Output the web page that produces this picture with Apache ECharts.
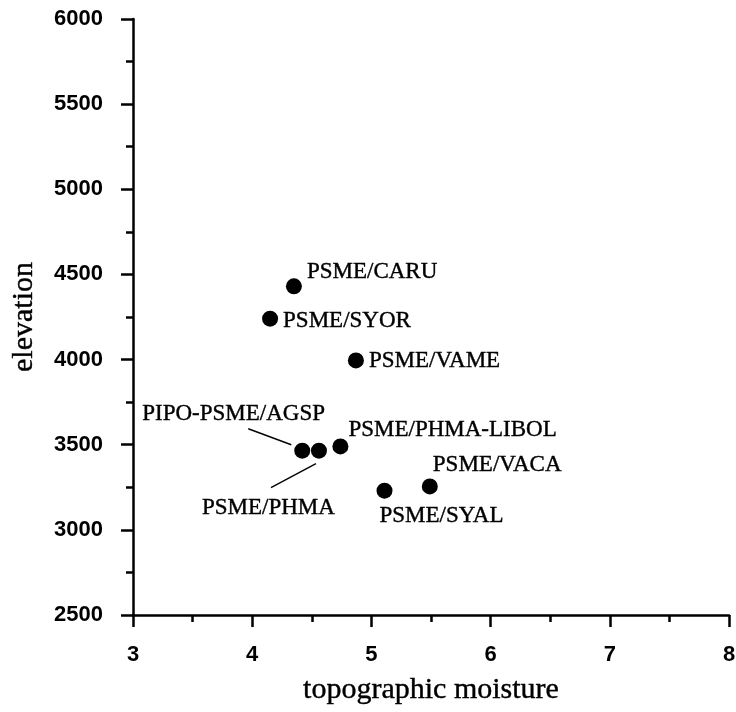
<!DOCTYPE html>
<html>
<head>
<meta charset="utf-8">
<script src="https://cdn.jsdelivr.net/npm/echarts@6/dist/echarts.min.js"></script>
<style>html,body{margin:0;padding:0;background:#fff}#c{width:736px;height:712px}</style>
</head>
<body>
<div id="c"></div>
<script>
const names = ['PSME/CARU','PSME/SYOR','PSME/VAME','PIPO-PSME/AGSP','PSME/PHMA','PSME/PHMA-LIBOL','PSME/SYAL','PSME/VACA'];
const moisture = [4.35, 4.15, 4.87, 4.42, 4.56, 4.74, 5.11, 5.49];
const elevation = [4430, 4240, 3995, 3465, 3465, 3490, 3230, 3255];
const xTicks = [3, 4, 5, 6, 7, 8];
const yTicks = [2500, 3000, 3500, 4000, 4500, 5000, 5500, 6000];

// label placement relative to each point (styling only)
const labelPlace = {
  'PSME/CARU':       {dx:0,   dy:-14},
  'PSME/SYOR':       {dx:0,   dy:2},
  'PSME/VAME':       {dx:0,   dy:1},
  'PIPO-PSME/AGSP':  {dx:-173, dy:-37},
  'PSME/PHMA':       {dx:-130, dy:57},
  'PSME/PHMA-LIBOL': {dx:-5,  dy:-16},
  'PSME/SYAL':       {dx:-18, dy:25},
  'PSME/VACA':       {dx:-10, dy:-21}
};
// leader lines: [startOffset, endOffset] relative to point, in px
const leaders = {
  'PIPO-PSME/AGSP': [[-54,-22],[-11,-6]],
  'PSME/PHMA':      [[-3,13],[-48,37]]
};

const data = names.map((n,i)=>({name:n, value:[moisture[i], elevation[i]]}));

const chart = echarts.init(document.getElementById('c'), null, {renderer:'canvas'});
const axisCommon = {
  axisLine:{show:true, onZero:false, lineStyle:{color:'#000', width:2.5}},
  axisTick:{show:true, inside:false, length:12, lineStyle:{color:'#000', width:2.5}},
  minorTick:{show:true, splitNumber:2, length:7, lineStyle:{color:'#000', width:2.5}},
  splitLine:{show:false},
  axisLabel:{color:'#000', fontFamily:'Liberation Sans', fontWeight:'bold', fontSize:22, formatter:v=>String(v)}
};
const serif = {color:'#000', fontFamily:'Liberation Serif', textBorderColor:'#000', textBorderWidth:0.4};
chart.setOption({
  animation:false,
  backgroundColor:'#fff',
  grid:{left:133, right:7, top:19, bottom:97, outerBoundsMode:'none', containLabel:false},
  xAxis:Object.assign({}, axisCommon, {
    type:'value', min:xTicks[0], max:xTicks[xTicks.length-1], interval:1,
    name:'topographic moisture', nameLocation:'middle', nameGap:60,
    nameTextStyle:Object.assign({fontSize:30}, serif),
    axisLabel:Object.assign({}, axisCommon.axisLabel, {margin:29})
  }),
  yAxis:Object.assign({}, axisCommon, {
    type:'value', min:yTicks[0], max:yTicks[yTicks.length-1], interval:500,
    name:'elevation', nameLocation:'middle', nameGap:94,
    nameTextStyle:Object.assign({fontSize:30}, serif),
    axisLabel:Object.assign({}, axisCommon.axisLabel, {margin:30})
  }),
  series:[{
    type:'scatter',
    symbol:'circle',
    symbolSize:16,
    itemStyle:{color:'#000', opacity:1},
    emphasis:{disabled:true},
    label:Object.assign({show:true, position:'right', distance:5, formatter:'{b}', fontSize:23}, serif),
    labelLayout: function(params){
      const p = labelPlace[names[params.dataIndex]];
      return {dx:p.dx, dy:p.dy};
    },
    data: data
  }]
});

// leader lines anchored to the points through the chart's own scales
const graphics = [];
names.forEach((n,i)=>{
  const L = leaders[n];
  if (!L) return;
  const pt = chart.convertToPixel({seriesIndex:0}, [moisture[i], elevation[i]]);
  graphics.push({
    type:'line', silent:true, z:10,
    shape:{x1:pt[0]+L[0][0], y1:pt[1]+L[0][1], x2:pt[0]+L[1][0], y2:pt[1]+L[1][1]},
    style:{stroke:'#000', lineWidth:1.5}
  });
});
chart.setOption({graphic:graphics});
</script>
</body>
</html>
